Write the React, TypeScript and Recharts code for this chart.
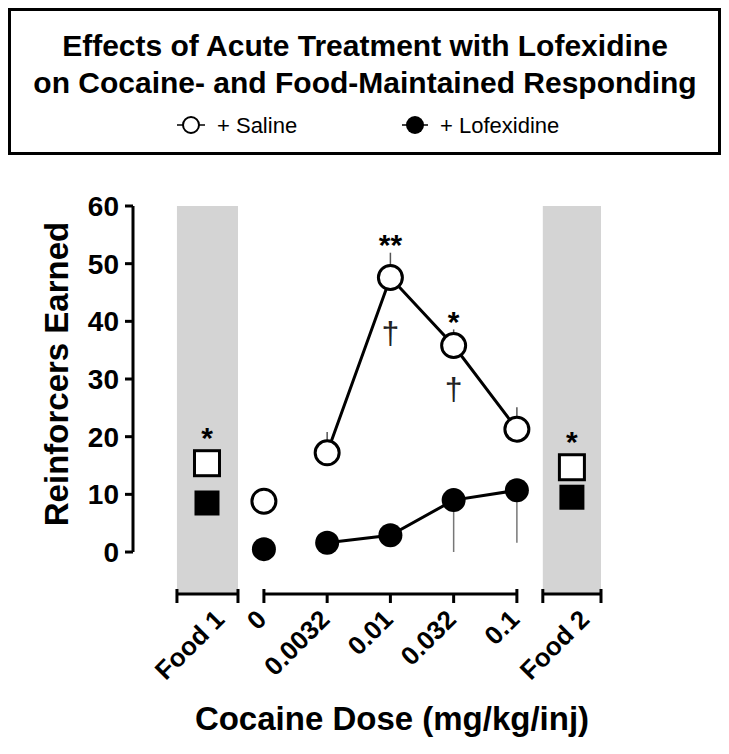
import {
  ComposedChart,
  Line,
  Scatter,
  XAxis,
  YAxis,
  ErrorBar,
  ReferenceArea,
  ReferenceLine,
  ReferenceDot,
} from "recharts";

// cocaine doses (x slots 0..4); dose "0" is the vehicle point, drawn unconnected
const doseLabels = ["0", "0.0032", "0.01", "0.032", "0.1"];
const salineMean = [8.8, 17.2, 47.6, 35.8, 21.3];
const salineSem = [1.2, 3.6, 4.3, 2.8, 3.8];
const lofexMean = [0.5, 1.6, 2.9, 9.0, 10.7];
const lofexSem = [0.5, 0.8, 0.9, 9.0, 9.1];
const salineStars = ["", "", "**", "*", ""];
const daggers = ["", "", "†", "†", ""];
const daggerAt = [0, 0, 38.0, 28.4, 0];

// food sessions
const foodLabels = ["Food 1", "Food 2"];
const foodSlots = [-0.9, 4.87];
const foodBands = [
  [-1.375, -0.41],
  [4.41, 5.33],
];
const foodSaline = [15.4, 14.7];
const foodLofex = [8.5, 9.5];
const foodStars = ["*", "*"];

const yTicks = [0, 10, 20, 30, 40, 50, 60];
const X_MIN = -2.07;
const X_MAX = 5.33;
const Y_MIN = -7.28;
const Y_MAX = 60;

const FONT = "'Liberation Sans', Arial, Helvetica, sans-serif";

const salineData = doseLabels.map((d, i) => ({
  x: i,
  y: salineMean[i],
  err: [0, salineSem[i]],
}));
const lofexData = doseLabels.map((d, i) => ({
  x: i,
  y: lofexMean[i],
  err: [lofexSem[i], 0],
}));
const foodSalineData = foodLabels.map((f, i) => ({ x: foodSlots[i], y: foodSaline[i] }));
const foodLofexData = foodLabels.map((f, i) => ({ x: foodSlots[i], y: foodLofex[i] }));

const xTickValues = [foodSlots[0], ...doseLabels.map((d, i) => i), foodSlots[1]];
const xTickLabels = [foodLabels[0], ...doseLabels, foodLabels[1]];

function XTick(props: any) {
  const { x, y, payload } = props;
  const idx = xTickValues.indexOf(payload.value);
  const label = xTickLabels[idx] ?? "";
  const isFood = label.startsWith("Food");
  const tx = x + (isFood ? 19 : 4);
  const ty = y + 27;
  return (
    <text
      x={tx}
      y={ty}
      transform={`rotate(-45, ${tx}, ${ty})`}
      textAnchor="end"
      fontSize={26}
      fontWeight="bold"
      fontFamily={FONT}
      fill="#000"
    >
      {label}
    </text>
  );
}

function OpenSquare(props: any) {
  const { cx, cy } = props;
  return <rect x={cx - 12.5} y={cy - 12.5} width={25} height={25} fill="#fff" stroke="#000" strokeWidth={3} />;
}

function FilledSquare(props: any) {
  const { cx, cy } = props;
  return <rect x={cx - 12.5} y={cy - 12.5} width={25} height={25} fill="#000" />;
}

const axisSeg = { stroke: "#000", strokeWidth: 3, ifOverflow: "visible" as const };
const openDot = { r: 12, fill: "#fff", stroke: "#000", strokeWidth: 3 };
const filledDot = { r: 12, fill: "#000", stroke: "#000", strokeWidth: 0 };

export default function App() {
  return (
    <div style={{ position: "relative", width: 713, height: 738, fontFamily: FONT }}>
      <svg width={713} height={150} style={{ position: "absolute", left: 0, top: 0 }}>
        <rect x={1.5} y={1.5} width={710} height={144} fill="#fff" stroke="#000" strokeWidth={3} />
        <text x={357} y={48} textAnchor="middle" fontSize={30} fontWeight="bold" fontFamily={FONT}>
          Effects of Acute Treatment with Lofexidine
        </text>
        <text x={357} y={85} textAnchor="middle" fontSize={30} fontWeight="bold" fontFamily={FONT}>
          on Cocaine- and Food-Maintained Responding
        </text>
        <line x1={169} x2={197} y1={117} y2={117} stroke="#000" strokeWidth={1.5} />
        <circle cx={183} cy={117} r={8} fill="#fff" stroke="#000" strokeWidth={2} />
        <text x={209} y={125} fontSize={22} fontFamily={FONT}>
          + Saline
        </text>
        <line x1={394} x2={420} y1={117} y2={117} stroke="#000" strokeWidth={1.5} />
        <circle cx={407} cy={117} r={9} fill="#000" />
        <text x={432} y={125} fontSize={22} fontFamily={FONT}>
          + Lofexidine
        </text>
      </svg>

      <div style={{ position: "absolute", left: 0, top: 0 }}>
        <ComposedChart
          width={713}
          height={738}
          margin={{ top: 198, right: 120, bottom: 32, left: 65 }}
          style={{ fontFamily: FONT }}
        >
          {foodBands.map((b, i) => (
            <ReferenceArea
              key={"band" + i}
              x1={b[0]}
              x2={b[1]}
              y1={Y_MIN}
              y2={Y_MAX}
              fill="#d4d4d4"
              fillOpacity={1}
              stroke="none"
            />
          ))}

          <XAxis
            type="number"
            dataKey="x"
            domain={[X_MIN, X_MAX]}
            ticks={xTickValues}
            interval={0}
            axisLine={false}
            tickLine={false}
            tickSize={0}
            tickMargin={0}
            height={120}
            tick={<XTick />}
            allowDataOverflow
            label={() => (
              <text
                x={384}
                y={722}
                textAnchor="middle"
                fontSize={33}
                fontWeight="bold"
                fontFamily={FONT}
                fill="#000"
              >
                Cocaine Dose (mg/kg/inj)
              </text>
            )}
          />
          <YAxis
            type="number"
            domain={[Y_MIN, Y_MAX]}
            ticks={yTicks}
            interval={0}
            width={60}
            axisLine={false}
            tickLine={{ stroke: "#000", strokeWidth: 3 }}
            tickSize={8}
            tickMargin={6}
            allowDataOverflow
            tick={{ fontSize: 28, fontWeight: "bold", fill: "#000", fontFamily: FONT }}
            label={() => (
              <text
                x={60}
                y={366}
                transform="rotate(-90, 60, 366)"
                textAnchor="middle"
                fontSize={33}
                fontWeight="bold"
                fontFamily={FONT}
                fill="#000"
              >
                Reinforcers Earned
              </text>
            )}
          />

          {/* broken axes */}
          <ReferenceLine segment={[{ x: X_MIN, y: 0 }, { x: X_MIN, y: Y_MAX }]} {...axisSeg} />
          {foodBands.map((b, i) => (
            <ReferenceLine key={"fa" + i} segment={[{ x: b[0], y: Y_MIN }, { x: b[1], y: Y_MIN }]} {...axisSeg} />
          ))}
          {foodBands.map((b) =>
            b.map((v, j) => (
              <ReferenceLine
                key={"fc" + v + j}
                segment={[{ x: v, y: Y_MIN + 0.87 }, { x: v, y: Y_MIN - 1.56 }]}
                {...axisSeg}
              />
            ))
          )}
          <ReferenceLine segment={[{ x: 0, y: Y_MIN }, { x: doseLabels.length - 1, y: Y_MIN }]} {...axisSeg} />
          {doseLabels.map((d, i) => (
            <ReferenceLine
              key={"dt" + i}
              segment={[
                { x: i, y: i === 0 || i === doseLabels.length - 1 ? Y_MIN + 0.87 : Y_MIN },
                { x: i, y: Y_MIN - 1.56 },
              ]}
              {...axisSeg}
            />
          ))}

          {/* vehicle points (not joined) */}
          <Line data={salineData.slice(0, 1)} dataKey="y" stroke="none" isAnimationActive={false} dot={openDot}>
            <ErrorBar dataKey="err" width={0} stroke="#555" strokeWidth={1.5} direction="y" />
          </Line>
          <Line data={lofexData.slice(0, 1)} dataKey="y" stroke="none" isAnimationActive={false} dot={filledDot}>
            <ErrorBar dataKey="err" width={0} stroke="#777" strokeWidth={1.5} direction="y" />
          </Line>

          <Line
            data={salineData.slice(1)}
            dataKey="y"
            stroke="#000"
            strokeWidth={3}
            isAnimationActive={false}
            dot={openDot}
          >
            <ErrorBar dataKey="err" width={0} stroke="#555" strokeWidth={1.5} direction="y" />
          </Line>
          <Line
            data={lofexData.slice(1)}
            dataKey="y"
            stroke="#000"
            strokeWidth={3}
            isAnimationActive={false}
            dot={filledDot}
          >
            <ErrorBar dataKey="err" width={0} stroke="#777" strokeWidth={1.5} direction="y" />
          </Line>
          <Scatter data={foodSalineData} dataKey="y" shape={<OpenSquare />} isAnimationActive={false} />
          <Scatter data={foodLofexData} dataKey="y" shape={<FilledSquare />} isAnimationActive={false} />

          {salineStars.map((s, i) =>
            s ? (
              <ReferenceDot
                key={"st" + i}
                x={i}
                y={salineMean[i] + salineSem[i]}
                r={0}
                fill="none"
                stroke="none"
                label={{ value: s, position: "top", offset: -2.5, fontSize: 30, fontWeight: "bold", fill: "#000" }}
              />
            ) : null
          )}
          {foodStars.map((s, i) => (
            <ReferenceDot
              key={"fs" + i}
              x={foodSlots[i]}
              y={foodSaline[i]}
              r={14}
              fill="none"
              stroke="none"
              label={{ value: s, position: "top", offset: 1.5, fontSize: 30, fontWeight: "bold", fill: "#000" }}
            />
          ))}
          {daggers.map((s, i) =>
            s ? (
              <ReferenceDot
                key={"dg" + i}
                x={i}
                y={daggerAt[i]}
                r={0}
                fill="none"
                stroke="none"
                label={{ value: s, position: "center", fontSize: 32, fill: "#222" }}
              />
            ) : null
          )}
        </ComposedChart>
      </div>
    </div>
  );
}
